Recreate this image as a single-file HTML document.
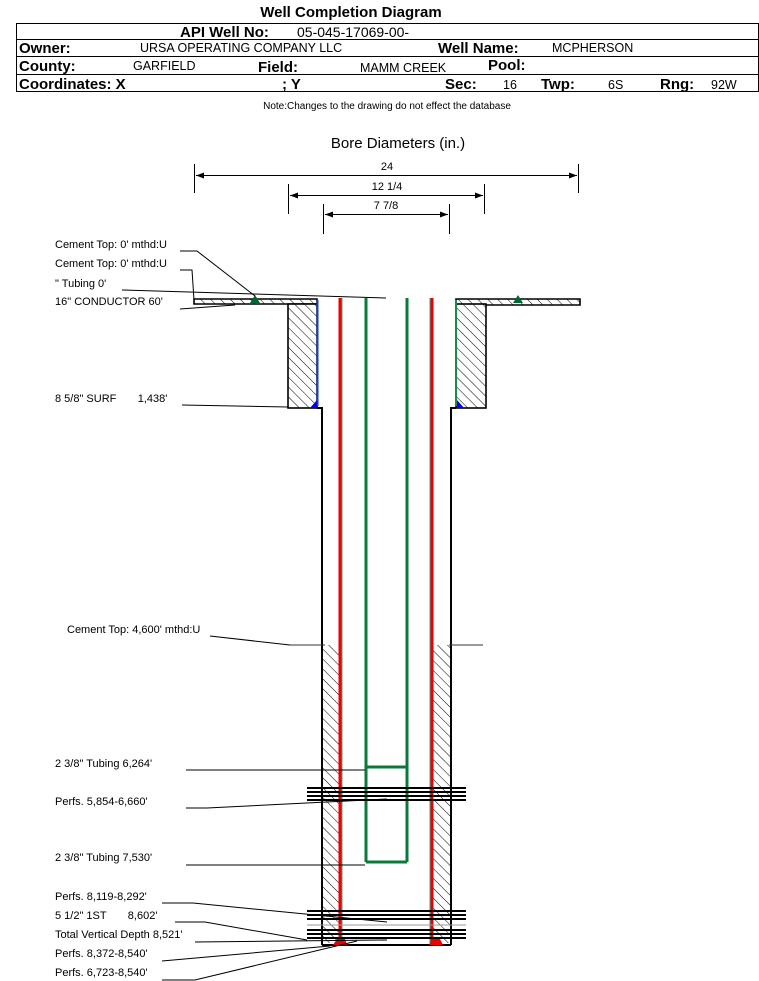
<!DOCTYPE html>
<html><head><meta charset="utf-8"><style>
html,body{margin:0;padding:0;background:#fff;}
svg{display:block;font-family:"Liberation Sans",Arial,sans-serif;}
.b{font-weight:bold;font-size:15px;}
.v{font-size:12.5px;}
.l{font-size:11px;}
</style></head><body>
<svg width="759" height="981" viewBox="0 0 759 981" xmlns="http://www.w3.org/2000/svg">
<defs>
<pattern id="h" width="7" height="7" patternUnits="userSpaceOnUse" patternTransform="rotate(-45)">
<rect width="7" height="7" fill="#fff"/><line x1="0" y1="0" x2="0" y2="7" stroke="#000" stroke-width="1"/>
</pattern>
<marker id="a" markerWidth="8" markerHeight="6" refX="8" refY="3" orient="auto"><path d="M0,0 L8,3 L0,6z" fill="#000"/></marker>
<marker id="as" markerWidth="8" markerHeight="6" refX="0" refY="3" orient="auto"><path d="M8,0 L0,3 L8,6z" fill="#000"/></marker>
</defs>
<text x="351" y="17" text-anchor="middle" class="b">Well Completion Diagram</text>
<rect x="16.5" y="23.5" width="742" height="68" fill="none" stroke="#000"/>
<line x1="16" y1="39.5" x2="759" y2="39.5" stroke="#000"/>
<line x1="16" y1="56.5" x2="759" y2="56.5" stroke="#000"/>
<line x1="16" y1="74.5" x2="759" y2="74.5" stroke="#000"/>
<text x="180" y="37" class="b">API Well No:</text><text x="297" y="37" class="v" style="font-size:14px">05-045-17069-00-</text>
<text x="19" y="53" class="b">Owner:</text><text x="140" y="52" class="v">URSA OPERATING COMPANY LLC</text>
<text x="438" y="53" class="b">Well Name:</text><text x="552" y="52" class="v">MCPHERSON</text>
<text x="19" y="71" class="b">County:</text><text x="133" y="70" class="v">GARFIELD</text>
<text x="258" y="72" class="b">Field:</text><text x="360" y="72" class="v">MAMM CREEK</text>
<text x="488" y="70" class="b">Pool:</text>
<text x="19" y="89" class="b">Coordinates: X</text><text x="282" y="89" class="b">; Y</text>
<text x="445" y="89" class="b">Sec:</text><text x="503" y="89" class="v">16</text>
<text x="541" y="89" class="b">Twp:</text><text x="608" y="89" class="v">6S</text>
<text x="660" y="89" class="b">Rng:</text><text x="711" y="89" class="v">92W</text>
<text x="387" y="109" text-anchor="middle" style="font-size:10px">Note:Changes to the drawing do not effect the database</text>
<text x="398" y="148" text-anchor="middle" style="font-size:15px">Bore Diameters (in.)</text>
<g stroke="#000" fill="none">
<line x1="194.5" y1="164" x2="194.5" y2="193"/><line x1="578.5" y1="164" x2="578.5" y2="193"/>
<line x1="196" y1="175.5" x2="577" y2="175.5" marker-end="url(#a)" marker-start="url(#as)"/>
<line x1="288.5" y1="184" x2="288.5" y2="214"/><line x1="484.5" y1="184" x2="484.5" y2="214"/>
<line x1="290" y1="195.5" x2="483" y2="195.5" marker-end="url(#a)" marker-start="url(#as)"/>
<line x1="323.5" y1="204" x2="323.5" y2="234"/><line x1="449.5" y1="204" x2="449.5" y2="234"/>
<line x1="325" y1="214.5" x2="448" y2="214.5" marker-end="url(#a)" marker-start="url(#as)"/>
</g>
<g class="l" text-anchor="middle"><text x="387" y="170">24</text><text x="387" y="190">12 1/4</text><text x="386" y="209">7 7/8</text></g>
<g stroke="#000" stroke-width="1.6">
<path d="M194,299 H317 V304 H194 Z" fill="url(#h)"/>
<path d="M456,299 H580 V305 H456 Z" fill="url(#h)"/>
<rect x="288" y="304" width="29" height="104" fill="url(#h)"/>
<rect x="456" y="304" width="30" height="104" fill="url(#h)"/>
</g>
<line x1="317.5" y1="300" x2="317.5" y2="406" stroke="#1a3fc0" stroke-width="2"/>
<line x1="456" y1="300" x2="456" y2="406" stroke="#1a8a4a" stroke-width="2"/>
<path d="M310,408 L317,400 L317,408Z" fill="#00f"/><path d="M457,400 L457,408 L464,408Z" fill="#00f"/>
<path d="M250,303 L255,295 L260,303Z" fill="#063"/><path d="M513,303 L518,295 L523,303Z" fill="#063"/>
<rect x="323" y="645" width="16" height="298" fill="url(#h)"/>
<rect x="433" y="645" width="17" height="298" fill="url(#h)"/>
<g stroke="#000" stroke-width="2" fill="none">
<path d="M317,408 H322 V945"/><path d="M456,408 H451 V945"/>
<line x1="322" y1="945" x2="451" y2="945"/>
</g>
<line x1="290" y1="645" x2="325" y2="645" stroke="#333"/><line x1="449" y1="645" x2="483" y2="645" stroke="#333"/>
<line x1="340" y1="298" x2="340" y2="945" stroke="#e00" stroke-width="3"/>
<line x1="432" y1="298" x2="432" y2="945" stroke="#e00" stroke-width="3"/>
<line x1="342" y1="298" x2="342" y2="945" stroke="#3a8" stroke-width="1"/>
<line x1="430" y1="298" x2="430" y2="945" stroke="#3a8" stroke-width="1"/>
<g stroke="#0a7a3a" stroke-width="3" fill="none">
<line x1="366" y1="298" x2="366" y2="862"/><line x1="407" y1="298" x2="407" y2="862"/>
<line x1="366" y1="767" x2="407" y2="767"/><line x1="366" y1="862" x2="407" y2="862"/>
</g>
<path d="M333,945 L337,939 L345,939 L347,945Z M429,945 L432,939 L440,939 L443,945Z" fill="#e00"/>
<g stroke="#000" stroke-width="2">
<line x1="307" y1="788" x2="466" y2="788"/><line x1="307" y1="792" x2="466" y2="792"/><line x1="307" y1="796" x2="466" y2="796"/><line x1="307" y1="800" x2="466" y2="800"/>
<line x1="307" y1="911" x2="466" y2="911"/><line x1="307" y1="915" x2="466" y2="915"/><line x1="307" y1="919" x2="466" y2="919"/>
<line x1="307" y1="930" x2="466" y2="930"/><line x1="307" y1="934" x2="466" y2="934"/><line x1="307" y1="938" x2="466" y2="938"/>
</g>
<line x1="307" y1="925" x2="466" y2="925" stroke="#999"/>
<g class="l"><text x="55" y="248">Cement Top: 0' mthd:U</text>
<text x="55" y="267">Cement Top: 0' mthd:U</text>
<text x="55" y="287">" Tubing 0'</text>
<text x="55" y="305">16" CONDUCTOR  60'</text>
<text x="55" y="402" xml:space="preserve">8 5/8" SURF       1,438'</text>
<text x="67" y="633">Cement Top: 4,600' mthd:U</text>
<text x="55" y="767">2 3/8" Tubing 6,264'</text>
<text x="55" y="805">Perfs. 5,854-6,660'</text>
<text x="55" y="861">2 3/8" Tubing 7,530'</text>
<text x="55" y="900">Perfs. 8,119-8,292'</text>
<text x="55" y="919" xml:space="preserve">5 1/2" 1ST       8,602'</text>
<text x="55" y="938">Total Vertical Depth 8,521'</text>
<text x="55" y="957">Perfs. 8,372-8,540'</text>
<text x="55" y="976">Perfs. 6,723-8,540'</text></g>
<g stroke="#000" fill="none" stroke-width="1">
<path d="M180,251 H197 L255,296"/>
<path d="M180,270 H192 L194,300"/>
<path d="M122,290 L386,298"/>
<path d="M180,309 L235,305"/>
<path d="M182,405 L288,407"/>
<path d="M210,636 L290,645"/>
<path d="M186,770 H365"/>
<path d="M186,808 H207 L387,799"/>
<path d="M186,865 H365"/>
<path d="M162,903 H193 L387,922"/>
<path d="M175,922 H205 L307,940"/>
<path d="M195,942 L387,940"/>
<path d="M162,961 L330,946"/>
<path d="M162,980 H195 L357,941"/>
</g>
</svg>
</body></html>
